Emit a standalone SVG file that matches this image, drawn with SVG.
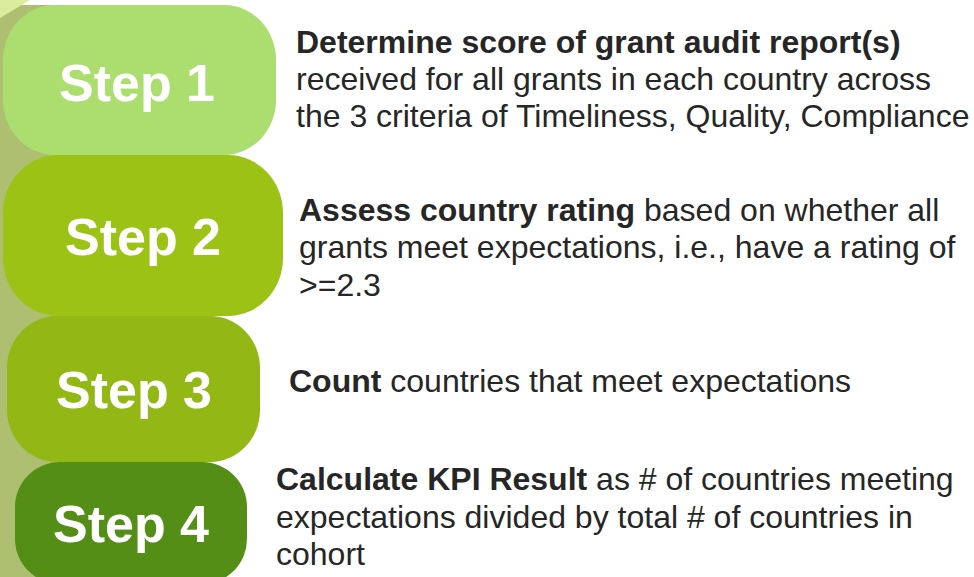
<svg xmlns="http://www.w3.org/2000/svg" width="974" height="577" viewBox="0 0 974 577">
<style>
.step{font-family:"Liberation Sans",Arial,sans-serif;font-weight:bold;font-size:52px;fill:#ffffff;text-anchor:middle}
.desc{font-family:"Liberation Sans",Arial,sans-serif;font-size:32px;fill:#262626}
.b{font-weight:bold}
</style>
<rect x="0" y="0" width="974" height="577" fill="#ffffff"/>
<g id="background">
<rect x="0" y="5" width="190" height="572" fill="#afbf72"/>
<polygon points="0,0 30,0 0,18" fill="#dcec9e"/>
</g>
<g id="connectors"/>
<g id="step1">
<rect x="3" y="5" width="273" height="150" rx="52" ry="55" fill="#acdd6f"/>
<text class="step" x="137" y="101">Step 1</text>
<text class="desc" x="296"><tspan x="296" y="53" class="b">Determine score of grant audit report(s)</tspan><tspan x="296" y="90">received for all grants in each country across</tspan><tspan x="296" y="127">the 3 criteria of Timeliness, Quality, Compliance</tspan></text>
</g>
<g id="step2">
<rect x="3" y="155" width="280" height="161" rx="55" ry="58" fill="#9dc216"/>
<text class="step" x="143" y="255">Step 2</text>
<text class="desc"><tspan x="299" y="221"><tspan class="b">Assess country rating</tspan> based on whether all</tspan><tspan x="299" y="258">grants meet expectations, i.e., have a rating of</tspan><tspan x="299" y="296">&gt;=2.3</tspan></text>
</g>
<g id="step3">
<rect x="7" y="316" width="253" height="146" rx="50" ry="52" fill="#93b816"/>
<text class="step" x="134" y="408">Step 3</text>
<text class="desc" x="289" y="392"><tspan class="b">Count</tspan> countries that meet expectations</text>
</g>
<g id="step4">
<rect x="15" y="462" width="232" height="122" rx="45" ry="45" fill="#548e17"/>
<text class="step" x="131" y="542">Step 4</text>
<text class="desc"><tspan x="276" y="490"><tspan class="b">Calculate KPI Result</tspan> as # of countries meeting</tspan><tspan x="276" y="528">expectations divided by total # of countries in</tspan><tspan x="276" y="565">cohort</tspan></text>
</g>
</svg>
